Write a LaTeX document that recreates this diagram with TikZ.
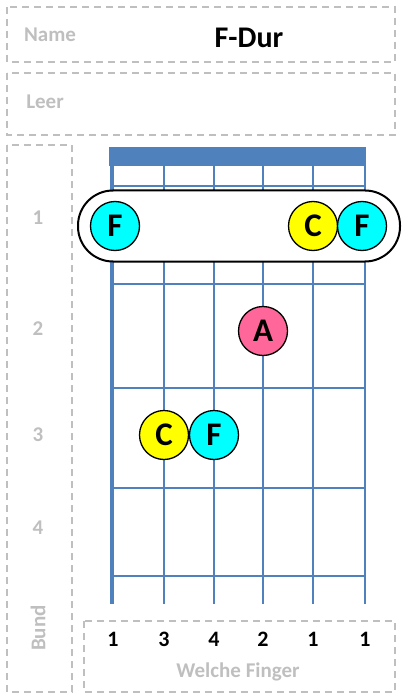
\documentclass[tikz,border=0pt]{standalone}
\usepackage{fontspec}
\setmainfont{Carlito}
\definecolor{grid}{HTML}{4F81BD}
\definecolor{lbl}{HTML}{BFBFBF}
\definecolor{dcyan}{HTML}{00FFFF}
\definecolor{dyellow}{HTML}{FFFF00}
\definecolor{dpink}{HTML}{FF6699}
\begin{document}
\begin{tikzpicture}[x=1pt,y=-1pt,
  box/.style={draw=lbl,line width=1.3pt,dash pattern=on 7pt off 5pt},
  graytxt/.style={text=lbl,font=\bfseries\fontsize{21}{24}\selectfont},
  fnum/.style={text=black,font=\bfseries\fontsize{22}{26}\selectfont},
  note/.style={circle,draw=black,line width=1.3pt,minimum size=49pt,inner sep=0pt,font=\bfseries\fontsize{33}{36}\selectfont},
  gline/.style={draw=grid,line width=2pt}]
\useasboundingbox (0,0) rectangle (404,700);
% boxes
\draw[box] (7,7) rectangle (395,62);
\draw[box] (7,73) rectangle (395,135);
\draw[box] (7,145) rectangle (72,692);
\draw[box] (84,621) rectangle (395,692);
\node[graytxt] (name) at (50,35) {Name};
\node[font=\bfseries\fontsize{30}{34}\selectfont] (title) at (249,38) {F-Dur};
\node[graytxt] (leer) at (45,102) {Leer};
\node[graytxt,rotate=90] (bund) at (38,628) {Bund};
\node[graytxt] (welche) at (238,672) {Welche Finger};
% fret numbers
\foreach \n/\y in {1/218,2/329,3/435,4/528}
  \node[graytxt] (b\n) at (38,\y) {\n};
% nut bar
\fill[grid] (109,147) rectangle (366,166);
% strings
\draw[grid,line width=4pt] (112,147) -- (112,604);
\foreach \x in {164,214,263,313,365}
  \draw[gline] (\x,147) -- (\x,604);
% frets
\foreach \y in {186,284,388,488,576}
  \draw[gline] (112,\y) -- (366,\y);
% barre
\node[draw=black,line width=2pt,fill=white,rounded corners=35pt,minimum width=322pt,minimum height=71pt] (barre) at (239,226) {};
% notes
\node[note,fill=dcyan] (f1) at (115,226) {F};
\node[note,fill=dyellow] (c1) at (313,226) {C};
\node[note,fill=dcyan] (f2) at (362,226) {F};
\node[note,fill=dpink] (a2) at (263,331) {A};
\node[note,fill=dyellow] (c3) at (164,435) {C};
\node[note,fill=dcyan] (f3) at (214,435) {F};
% fingers
\foreach \x/\n [count=\i] in {113/1,164/3,214/4,263/2,313/1,365/1}
  \node[fnum] (fg\i) at (\x,639) {\n};
\end{tikzpicture}
\end{document}
